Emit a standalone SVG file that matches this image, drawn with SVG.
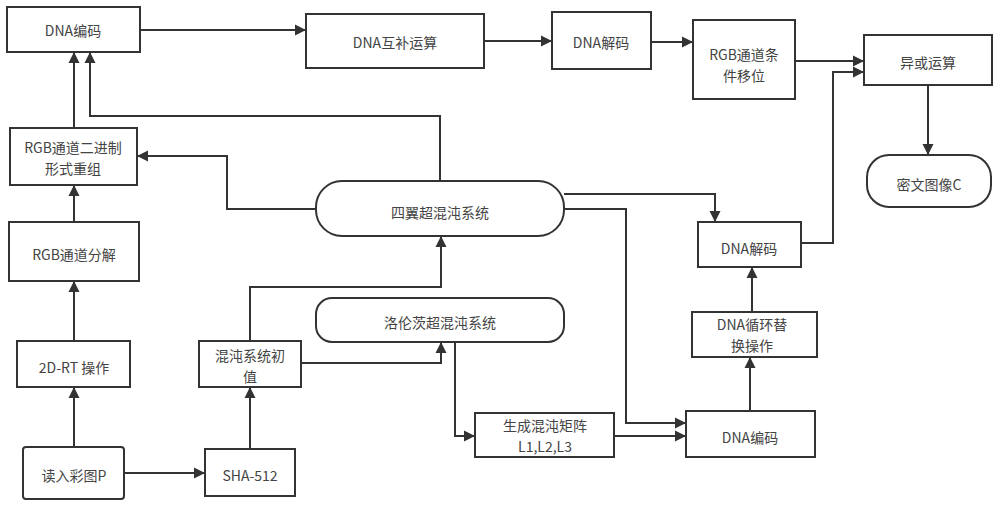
<svg xmlns="http://www.w3.org/2000/svg" width="1000" height="507" viewBox="0 0 1000 507">
<style>
.box{fill:#fff;stroke:#333;stroke-width:2}
.t{font-family:"Noto Sans CJK SC","Liberation Sans",sans-serif;font-size:14px;fill:#444;text-anchor:middle;dominant-baseline:central}
.c{fill:none;stroke:#333;stroke-width:2;marker-end:url(#ah)}
</style>
<defs>
<marker id="ah" markerUnits="userSpaceOnUse" markerWidth="14" markerHeight="14" viewBox="0 0 14 14" refX="12" refY="7" orient="auto">
<path d="M1,1.5 L12,7 L1,12.5 Z" fill="#333"/>
</marker>
</defs>
<rect width="1000" height="507" fill="#fff"/>
<g id="n-dnaenc1"><rect class="box" x="7" y="7" width="133" height="45"/><text class="t" x="73" y="30">DNA编码</text></g>
<g id="n-dnacomp"><rect class="box" x="306" y="14" width="178" height="54"/><text class="t" x="395" y="42">DNA互补运算</text></g>
<g id="n-dnadec1"><rect class="box" x="552" y="12" width="99" height="57"/><text class="t" x="601" y="42">DNA解码</text></g>
<g id="n-rgbshift"><rect class="box" x="693" y="20" width="102" height="79"/><text class="t" x="744" y="54">RGB通道条</text><text class="t" x="744" y="75">件移位</text></g>
<g id="n-xor"><rect class="box" x="864" y="35" width="128" height="50"/><text class="t" x="928" y="62">异或运算</text></g>
<g id="n-cipher"><rect class="box" x="867" y="155" width="124" height="52" rx="22"/><text class="t" x="929" y="184">密文图像C</text></g>
<g id="n-dnadec2"><rect class="box" x="698" y="222" width="103" height="45"/><text class="t" x="749" y="248">DNA解码</text></g>
<g id="n-dnacyc"><rect class="box" x="692" y="312" width="125" height="45"/><text class="t" x="752" y="324">DNA循环替</text><text class="t" x="752" y="345">换操作</text></g>
<g id="n-dnaenc2"><rect class="box" x="686" y="411" width="129" height="46"/><text class="t" x="750" y="437">DNA编码</text></g>
<g id="n-matrix"><rect class="box" x="475" y="413" width="139" height="44"/><text class="t" x="545" y="425">生成混沌矩阵</text><text class="t" x="545" y="446">L1,L2,L3</text></g>
<g id="n-lorenz"><rect class="box" x="316" y="298" width="248" height="44" rx="16"/><text class="t" x="440" y="322">洛伦茨超混沌系统</text></g>
<g id="n-fourwing"><rect class="box" x="316" y="181" width="248" height="55" rx="26"/><text class="t" x="440" y="212">四翼超混沌系统</text></g>
<g id="n-rgbrecomb"><rect class="box" x="10" y="128" width="127" height="57"/><text class="t" x="73" y="147">RGB通道二进制</text><text class="t" x="73" y="168">形式重组</text></g>
<g id="n-rgbsplit"><rect class="box" x="9" y="222" width="130" height="59"/><text class="t" x="74" y="254">RGB通道分解</text></g>
<g id="n-2drt"><rect class="box" x="17" y="341" width="113" height="46"/><text class="t" x="74" y="367">2D-RT 操作</text></g>
<g id="n-read"><rect class="box" x="23" y="447" width="101" height="52" rx="3"/><text class="t" x="74" y="475">读入彩图P</text></g>
<g id="n-sha"><rect class="box" x="205" y="449" width="90" height="47"/><text class="t" x="250" y="475">SHA-512</text></g>
<g id="n-init"><rect class="box" x="199" y="341" width="102" height="46"/><text class="t" x="250" y="355">混沌系统初</text><text class="t" x="250" y="376">值</text></g>
<g id="connectors">
<path class="c" d="M140,30 H306"/>
<path class="c" d="M484,41 H552"/>
<path class="c" d="M651,42 H693"/>
<path class="c" d="M795,61 H864"/>
<path class="c" d="M801,243 H833 V72 H864"/>
<path class="c" d="M928,85 V155"/>
<path class="c" d="M440,181 V116 H90 V52"/>
<path class="c" d="M74,128 V52"/>
<path class="c" d="M316,209 H227 V156 H137"/>
<path class="c" d="M74,222 V185"/>
<path class="c" d="M74,341 V281"/>
<path class="c" d="M74,447 V387"/>
<path class="c" d="M124,473 H205"/>
<path class="c" d="M250,449 V387"/>
<path class="c" d="M250,341 V287 H441 V236"/>
<path class="c" d="M301,363 H441 V342"/>
<path class="c" d="M455,342 V436 H475"/>
<path class="c" d="M614,436 H686"/>
<path class="c" d="M564,209 H626 V423 H686"/>
<path class="c" d="M564,194 H715 V222"/>
<path class="c" d="M750,411 V357"/>
<path class="c" d="M752,312 V267"/>
</g>
</svg>
